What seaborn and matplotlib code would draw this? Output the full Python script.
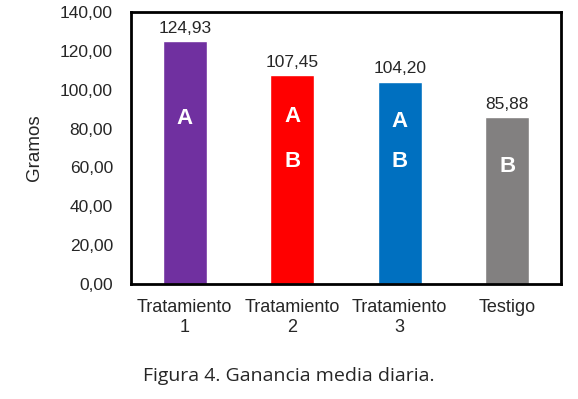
import pandas as pd
import matplotlib.pyplot as plt
import seaborn as sns

sns.set_style('white')
plt.rcParams['font.family'] = ['Liberation Sans', 'DejaVu Sans']

tratamientos = ['Tratamiento\n1', 'Tratamiento\n2', 'Tratamiento\n3', 'Testigo']
ganancia = [124.93, 107.45, 104.20, 85.88]
colores = ['#7030A0', '#FF0000', '#0070C0', '#828080']
letras = [['A'], ['A', 'B'], ['A', 'B'], ['B']]
# altura (en gramos) donde va cada letra dentro de la barra
pos_letras = [[85.3], [86.1, 62.9], [83.5, 62.9], [60.7]]

df = pd.DataFrame({'trat': tratamientos, 'g': ganancia})

fig = plt.figure(figsize=(5.78, 3.99), dpi=100)
ax = fig.add_axes([0.2266, 0.288, 0.744, 0.682])

sns.barplot(data=df, x='trat', y='g', hue='trat', palette=colores,
            legend=False, width=0.41, ax=ax, saturation=1)

for i, v in enumerate(ganancia):
    ax.annotate(f'{v:.2f}'.replace('.', ','), (i, v), xytext=(0, 4),
                textcoords='offset points', ha='center', va='bottom', fontsize=12.5)
    for l, y in zip(letras[i], pos_letras[i]):
        ax.text(i, y, l, color='white', fontweight='bold', fontsize=16,
                ha='center', va='center')

ax.set_ylim(0, 140)
ax.set_yticks(range(0, 141, 20))
ax.set_yticklabels([f'{t},00' for t in range(0, 141, 20)], fontsize=12.5)
ax.tick_params(axis='x', labelsize=13, pad=11, length=0)
ax.tick_params(axis='y', pad=13, length=0)
ax.set_xlabel('')
ax.set_ylabel('Gramos', fontsize=13.5, labelpad=12)
for s in ax.spines.values():
    s.set_linewidth(2)
    s.set_color('black')

fig.text(0.5, 0.058, 'Figura 4. Ganancia media diaria.', ha='center', va='center',
         fontsize=14, family=['Open Sans', 'DejaVu Sans'])

plt.savefig('out.png')
